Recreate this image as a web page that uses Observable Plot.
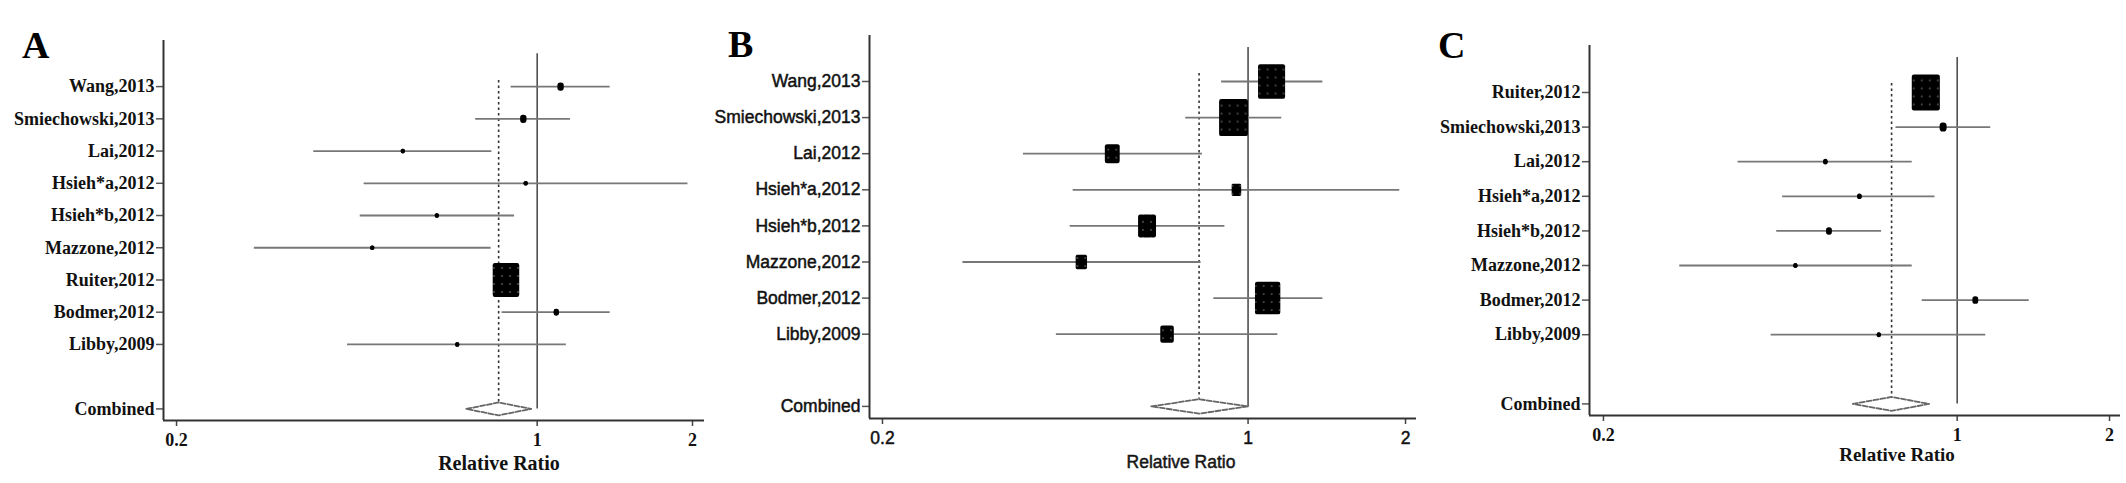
<!DOCTYPE html>
<html>
<head>
<meta charset="utf-8">
<script src="https://cdn.jsdelivr.net/npm/d3@7"></script>
<script src="https://cdn.jsdelivr.net/npm/@observablehq/plot@0.6"></script>
<style>
  html, body { margin: 0; padding: 0; background: #fff; }
  #wrap { position: relative; width: 2126px; height: 483px; overflow: hidden; background: #fff; }
  .panel { position: absolute; top: 0; height: 483px; }
  .letter { position: absolute; font-family: "Liberation Serif", serif; font-weight: bold; font-size: 38px; line-height: 1; color: #000; }
  .xlab { position: absolute; line-height: 1; color: #111; transform: translate(-50%, -50%); white-space: nowrap; }
  .cframe { position: absolute; border: 3px solid #f1f1f1; box-sizing: border-box; }
  .heavy svg text { paint-order: stroke; stroke: #222; stroke-width: 0.5px; }
  .heavy .xlab { -webkit-text-stroke: 0.5px #222; }
</style>
</head>
<body>
<div id="wrap"></div>
<script>
// ---------------- data ----------------
const xTicks = [0.2, 1, 2];
const xTitle = "Relative Ratio";
const pooledLabel = "Combined";

// Panel A
const studiesA = ["Wang,2013", "Smiechowski,2013", "Lai,2012", "Hsieh*a,2012", "Hsieh*b,2012", "Mazzone,2012", "Ruiter,2012", "Bodmer,2012", "Libby,2009"];
const estA    = [1.11, 0.94, 0.549, 0.95, 0.639, 0.479, 0.87, 1.089, 0.70];
const lowerA  = [0.89, 0.76, 0.369, 0.462, 0.454, 0.283, 0.84, 0.855, 0.429];
const upperA  = [1.385, 1.16, 0.817, 1.96, 0.904, 0.814, 0.90, 1.385, 1.139];
const weightA = [4.6, 4.6, 1.5, 1.5, 1.5, 1.5, 80.0, 3.4, 1.5];
const pooledA = [0.842, 0.729, 0.974]; // estimate, lower, upper

// Panel B
const studiesB = ["Wang,2013", "Smiechowski,2013", "Lai,2012", "Hsieh*a,2012", "Hsieh*b,2012", "Mazzone,2012", "Bodmer,2012", "Libby,2009"];
const estB    = [1.109, 0.938, 0.55, 0.95, 0.641, 0.48, 1.09, 0.70];
const lowerB  = [0.89, 0.76, 0.372, 0.463, 0.457, 0.285, 0.86, 0.43];
const upperB  = [1.39, 1.16, 0.818, 1.95, 0.903, 0.813, 1.39, 1.14];
const weightB = [23.2, 26.4, 7.0, 2.9, 10.2, 4.1, 20.4, 5.8];
const pooledB = [0.806, 0.653, 1.0];

// Panel C
const studiesC = ["Ruiter,2012", "Smiechowski,2013", "Lai,2012", "Hsieh*a,2012", "Hsieh*b,2012", "Mazzone,2012", "Bodmer,2012", "Libby,2009"];
const estC    = [0.867, 0.938, 0.549, 0.641, 0.558, 0.479, 1.086, 0.70];
const lowerC  = [0.84, 0.757, 0.369, 0.452, 0.44, 0.283, 0.853, 0.429];
const upperC  = [0.90, 1.165, 0.815, 0.904, 0.709, 0.815, 1.388, 1.139];
const weightC = [81.0, 5.0, 2.0, 2.0, 3.5, 1.5, 3.5, 1.5];
const pooledC = [0.742, 0.622, 0.88];

// ---------------- drawing ----------------
const boxSymbol = {
  draw(ctx, size) {
    const r = Math.sqrt(size / Math.PI);
    const h = r, w = r * 0.78;
    const c = w < 3.5 ? w * 0.9 : Math.min(2.2, w * 0.3);
    ctx.moveTo(-w + c, -h);
    ctx.lineTo(w - c, -h);
    ctx.arcTo(w, -h, w, -h + c, c);
    ctx.lineTo(w, h - c);
    ctx.arcTo(w, h, w - c, h, c);
    ctx.lineTo(-w + c, h);
    ctx.arcTo(-w, h, -w, h - c, c);
    ctx.lineTo(-w, -h + c);
    ctx.arcTo(-w, -h, -w + c, -h, c);
    ctx.closePath();
  }
};

function forest(cfg) {
  const rows = cfg.studies.map((s, i) => ({
    label: s, row: i, est: cfg.est[i], lo: cfg.lower[i], hi: cfg.upper[i], w: cfg.weight[i]
  }));
  const pooledRow = cfg.studies.length + 1;
  const [pe, pl, pu] = cfg.pooled;
  const dh = 0.2;
  const diamond = [
    {x: pl, y: pooledRow}, {x: pe, y: pooledRow - dh}, {x: pu, y: pooledRow},
    {x: pe, y: pooledRow + dh}, {x: pl, y: pooledRow}
  ];
  const tickRows = rows.map(d => d.row).concat([pooledRow]);
  const tickNames = cfg.studies.concat([pooledLabel]);
  const wmax = d3.max(cfg.weight);
  const patId = "pat" + cfg.id;

  const svg = Plot.plot({
    width: cfg.width,
    height: 483,
    marginLeft: cfg.ml, marginRight: cfg.mr, marginTop: cfg.mt, marginBottom: cfg.mb,
    style: {fontFamily: cfg.font, fontSize: cfg.fs + "px", fontWeight: cfg.fw, background: "white", color: "#000", overflow: "visible"},
    x: {type: "log", domain: cfg.xdom},
    y: {type: "linear", domain: cfg.ydom},
    r: {type: "sqrt", domain: [0, wmax], range: [0, cfg.rmax]},
    marks: [
      Plot.axisY({ticks: tickRows, tickFormat: (d) => tickNames[tickRows.indexOf(d)], tickSize: 7, tickPadding: 2,
                  stroke: "#555", strokeWidth: 1.5, fontSize: cfg.fs, fill: "#111", label: null}),
      Plot.axisX({ticks: xTicks, tickFormat: d => String(d), tickSize: 6, tickPadding: 7,
                  stroke: "#444", strokeWidth: 1.5, fontSize: cfg.xfs, fill: "#111", label: null}),
      Plot.ruleX([cfg.xdom[0]], {stroke: "#333", strokeWidth: 2}),
      Plot.ruleY([cfg.ydom[0]], {stroke: "#333", strokeWidth: 2}),
      Plot.ruleX([1], {y1: cfg.nullTop, y2: pooledRow, stroke: "#444", strokeWidth: 1.5}),
      Plot.ruleX([pe], {y1: cfg.dotTop, y2: pooledRow - dh, stroke: "#333", strokeWidth: 1.6, strokeDasharray: "2.5,3"}),
      Plot.ruleY(rows, {y: "row", x1: "lo", x2: "hi", stroke: "#777", strokeWidth: 1.8}),
      Plot.dot(rows, {x: "est", y: "row", r: "w", symbol: boxSymbol, fill: `url(#${patId})`, stroke: "none"}),
      Plot.dot(rows, {x: "est", y: "row", r: 2.3, fill: "#000", stroke: "none"}),
      Plot.line(diamond, {x: "x", y: "y", stroke: "#666", strokeWidth: 1.8, strokeDasharray: "5,2", fill: "white", curve: "linear"})
    ]
  });

  // box texture (dotted pattern as in the original Stata boxes)
  const ns = "http://www.w3.org/2000/svg";
  const defs = document.createElementNS(ns, "defs");
  defs.innerHTML = `<pattern id="${patId}" width="8" height="8" patternUnits="userSpaceOnUse">
      <rect width="8" height="8" fill="#000"/><circle cx="4" cy="4" r="0.9" fill="#5a5a5a"/></pattern>`;
  svg.insertBefore(defs, svg.firstChild);

  const panel = document.createElement("div");
  panel.className = "panel" + (cfg.heavy ? " heavy" : "");
  panel.style.left = cfg.left + "px";
  panel.style.width = cfg.width + "px";
  panel.appendChild(svg);

  const letter = document.createElement("div");
  letter.className = "letter";
  letter.textContent = cfg.letter;
  letter.style.left = cfg.letterX + "px";
  letter.style.top = cfg.letterY + "px";
  panel.appendChild(letter);

  const xl = document.createElement("div");
  xl.className = "xlab";
  xl.textContent = xTitle;
  xl.style.left = cfg.xlabX + "px";
  xl.style.top = cfg.xlabY + "px";
  xl.style.fontFamily = cfg.font;
  xl.style.fontWeight = cfg.fw;
  xl.style.fontSize = cfg.xlfs + "px";
  panel.appendChild(xl);

  document.getElementById("wrap").appendChild(panel);
}

const serif = "'Liberation Serif', 'DejaVu Serif', serif";
const sans = "'Liberation Sans', Arial, sans-serif";

// light frame around panel C (as in the original figure)
const frame = document.createElement("div");
frame.className = "cframe";
Object.assign(frame.style, {left: "1468px", top: "28px", width: "656px", height: "446px"});
document.getElementById("wrap").appendChild(frame);

forest({id: "A", letter: "A", left: 0, width: 709, ml: 163, mr: 5, mt: 40, mb: 63,
  xdom: [0.1887, 2.11], ydom: [10.36, -1.43], rmax: 17, nullTop: -1.02, dotTop: -0.19,
  studies: studiesA, est: estA, lower: lowerA, upper: upperA, weight: weightA, pooled: pooledA,
  font: serif, fw: "bold", fs: 18, xfs: 18, xlfs: 20, letterX: 22, letterY: 26, xlabX: 499, xlabY: 463});

forest({id: "B", letter: "B", left: 709, width: 708, ml: 160, mr: 1, mt: 35, mb: 65, heavy: true,
  xdom: [0.1889, 2.099], ydom: [9.335, -1.274], rmax: 18.5, nullTop: -0.94, dotTop: -0.22,
  studies: studiesB, est: estB, lower: lowerB, upper: upperB, weight: weightB, pooled: pooledB,
  font: sans, fw: "normal", fs: 17.5, xfs: 17.5, xlfs: 17.5, letterX: 19, letterY: 25, xlabX: 472, xlabY: 463});

forest({id: "C", letter: "C", left: 1417, width: 709, ml: 172, mr: 6, mt: 45, mb: 68,
  xdom: [0.1877, 2.1025], ydom: [9.335, -1.358], rmax: 18, nullTop: -1.01, dotTop: -0.26,
  studies: studiesC, est: estC, lower: lowerC, upper: upperC, weight: weightC, pooled: pooledC,
  font: serif, fw: "bold", fs: 18, xfs: 18, xlfs: 19, letterX: 21, letterY: 26, xlabX: 480, xlabY: 454});
</script>
</body>
</html>
